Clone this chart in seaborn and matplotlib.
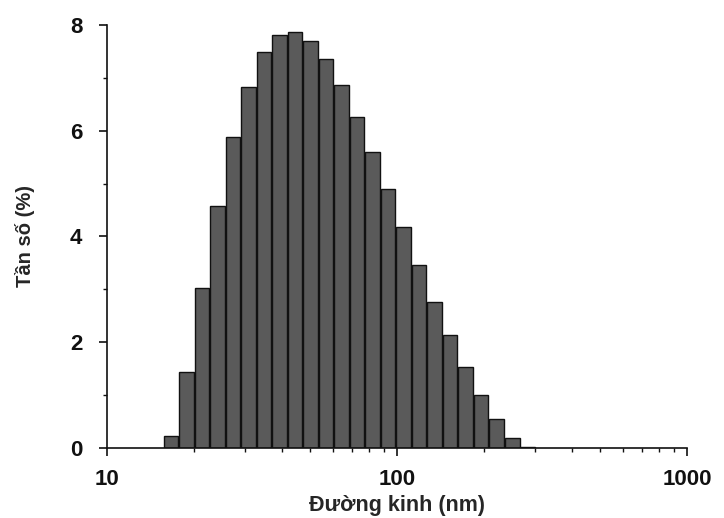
import numpy as np
import matplotlib
matplotlib.use("Agg")
import matplotlib.pyplot as plt
import seaborn as sns
from matplotlib.ticker import LogLocator, MultipleLocator, FixedLocator, NullFormatter

diameters = [16.6, 18.8, 21.3, 24.1, 27.3, 30.9, 35.0, 39.6, 44.8, 50.7,
             57.4, 65.0, 73.6, 83.3, 94.3, 106.7, 120.8, 136.8, 154.8, 175.3,
             198.4, 224.6, 254.3, 287.8]
frequency = [0.22, 1.43, 3.03, 4.58, 5.88, 6.83, 7.49, 7.80, 7.87, 7.69,
             7.35, 6.86, 6.26, 5.60, 4.90, 4.18, 3.46, 2.76, 2.14, 1.53,
             1.00, 0.55, 0.19, 0.02]
x_ticks = [10, 100, 1000]
x_label = "Đường kinh (nm)"
y_label = "Tần số (%)"

sns.set_style("ticks")
plt.rcParams["font.family"] = ["Liberation Sans", "DejaVu Sans"]
plt.rcParams["font.weight"] = "bold"

fig = plt.figure(figsize=(7.24, 5.18), dpi=100)
ax = fig.add_axes([0.148, 0.135, 0.801, 0.817])

sns.histplot(x=diameters, weights=frequency, bins=len(diameters),
             binrange=(np.log10(15.6), np.log10(15.6) + 0.0535 * len(diameters)),
             log_scale=True, color="#5a5a5a", edgecolor="#111111",
             linewidth=1.0, alpha=1, shrink=0.94, ax=ax)

ax.set_xlim(10, 1000)
ax.set_ylim(0, 8)
ax.xaxis.set_major_locator(FixedLocator(x_ticks))
ax.xaxis.set_minor_locator(LogLocator(base=10, subs=np.arange(2, 10)))
ax.xaxis.set_minor_formatter(NullFormatter())
ax.set_xticklabels([str(t) for t in x_ticks])
ax.yaxis.set_major_locator(MultipleLocator(2))
ax.yaxis.set_minor_locator(MultipleLocator(1))

for s in ["top", "right"]:
    ax.spines[s].set_visible(False)
for s in ["left", "bottom"]:
    ax.spines[s].set_linewidth(1.2)
    ax.spines[s].set_color("#111111")

ax.tick_params(which="major", length=6, width=1.2, labelsize=16, colors="#111111")
ax.tick_params(axis="y", which="major", pad=12)
ax.tick_params(axis="x", which="major", pad=9)
ax.tick_params(which="minor", length=3, width=1.0, colors="#111111")
for lab in ax.get_xticklabels() + ax.get_yticklabels():
    lab.set_fontweight("bold")

ax.set_xlabel(x_label, fontsize=15.5, fontweight="bold", labelpad=4)
ax.set_ylabel(y_label, fontsize=14.5, fontweight="bold", labelpad=25)

fig.savefig("out.png", dpi=100)
